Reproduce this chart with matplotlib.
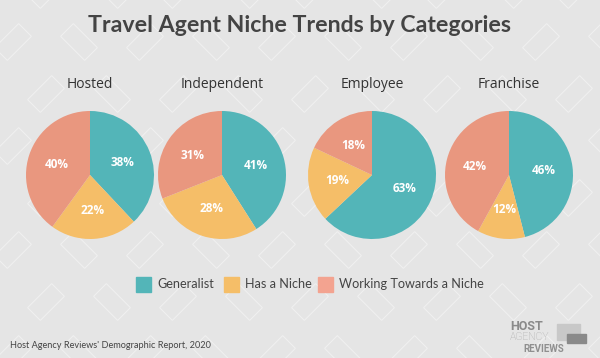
import numpy as np
import matplotlib.pyplot as plt
from matplotlib.patches import Rectangle, Polygon

# data
categories = ["Hosted", "Independent", "Employee", "Franchise"]
generalist = [38, 41, 63, 46]
has_niche = [22, 28, 19, 12]
towards_niche = [40, 31, 18, 42]
series_names = ["Generalist", "Has a Niche", "Working Towards a Niche"]

colors = ["#53b5b8", "#f5be68", "#e9977f"]
legend_colors = ["#53b5b8", "#f5be68", "#f3a390"]
bg = "#e5e5e5"

W, H = 600, 358
fig = plt.figure(figsize=(6, 3.58), dpi=100, facecolor=bg)


def px(x, y):
    # pixel coords (top-left origin) -> figure fraction
    return x / W, 1 - y / H


# faint suitcase pattern in the background
def suitcase(cx, cy, ang):
    w, h = 34, 18
    pts = np.array([[-w / 2, -h / 2], [w / 2, -h / 2], [w / 2, h / 2], [-w / 2, h / 2]])
    a = np.deg2rad(ang)
    rot = np.array([[np.cos(a), -np.sin(a)], [np.sin(a), np.cos(a)]])
    pts = pts @ rot.T + [cx, cy]
    fig.patches.append(Polygon([px(*p) for p in pts], closed=True, fill=False,
                               edgecolor="white", linewidth=0.7, alpha=0.45,
                               transform=fig.transFigure, zorder=-5))

for row, yy in enumerate(range(-10, 380, 52)):
    for xx in range(-20, 640, 66):
        off = 33 if row % 2 else 0
        suitcase(xx + off, yy, 45 if (xx // 66 + row) % 2 else -45)

for i, cat in enumerate(categories):
    cx = [90, 222, 372, 509][i]
    cy, r = 175, 64
    ax = fig.add_axes([(cx - r) / W, (H - cy - r) / H, 2 * r / W, 2 * r / H], zorder=2)
    ax.patch.set_visible(False)
    vals = [generalist[i], has_niche[i], towards_niche[i]]
    ax.pie(vals, colors=colors, startangle=90, counterclock=False,
           autopct=lambda p: f"{p:.0f}%", pctdistance=0.55,
           wedgeprops=dict(linewidth=0),
           textprops=dict(color="white", fontsize=8.5, fontweight="bold", family="Open Sans"))
    ax.set_xlim(-1, 1)
    ax.set_ylim(-1, 1)
    ax.set_aspect("equal")
    ax.axis("off")
    fig.text(*px(cx, 84), cat, ha="center", va="center",
             fontsize=10, color="#333333", family="Open Sans")

fig.text(*px(300, 25), "Travel Agent Niche Trends by Categories", ha="center", va="center",
         fontsize=16.7, fontweight="bold", color="#444444", family="Lato")

# legend
for name, c, lx in zip(series_names, legend_colors, [136, 224, 318]):
    fig.patches.append(Rectangle(px(lx, 292), 15 / W, 15 / H,
                                 transform=fig.transFigure, color=c))
    fig.text(*px(lx + 21, 284.5), name, ha="left", va="center",
             fontsize=9.1, color="#444444", family="Lato")

fig.text(*px(10, 345), "Host Agency Reviews' Demographic Report, 2020",
         ha="left", va="center", fontsize=6.6, color="#444444", family="Lato")

# logo
fig.patches.append(Rectangle(px(557, 340), 23 / W, 16 / H,
                             transform=fig.transFigure, color="#c8c8c8"))
fig.patches.append(Rectangle(px(567, 343), 19 / W, 9 / H,
                             transform=fig.transFigure, color="#8a8a8a"))
fig.text(*px(510, 326), "HOST", ha="left", va="center", fontsize=9,
         fontweight="bold", color="#8a8a8a", family="Roboto")
fig.text(*px(510, 337.5), "AGENCY", ha="left", va="center", fontsize=7.5,
         fontweight="light", color="#a8a8a8", family="Roboto")
fig.text(*px(523, 348.5), "REVIEWS", ha="left", va="center", fontsize=7,
         fontweight="bold", color="#8f8f8f", family="Roboto")

fig.savefig("out.png", dpi=100, facecolor=bg)
